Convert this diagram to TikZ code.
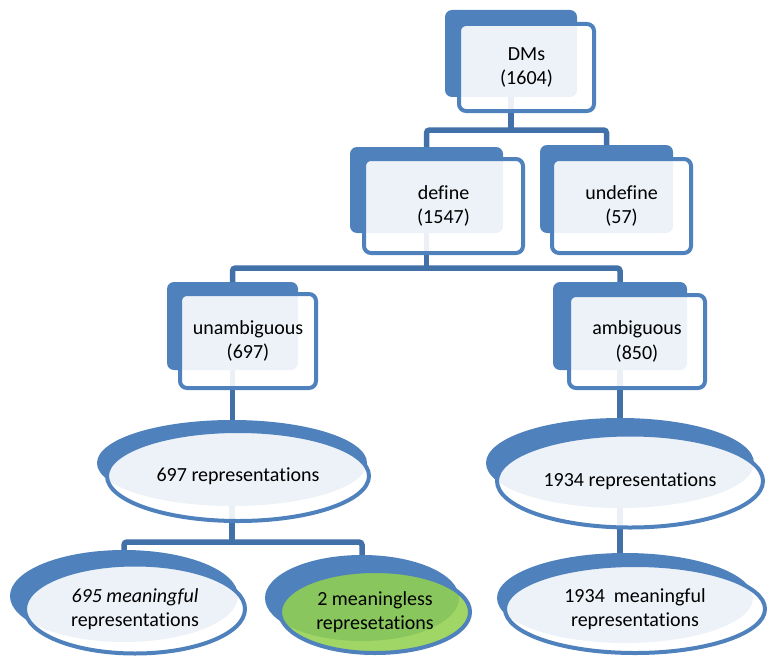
\documentclass[tikz,border=0pt]{standalone}
\usepackage{fontspec}
\setmainfont[Ligatures=NoCommon]{Carlito}
\usetikzlibrary{shapes.geometric}
\pgfdeclarelayer{bg}
\pgfsetlayers{bg,main}
\definecolor{bblue}{RGB}{79,129,189}
\definecolor{lblue}{RGB}{66,112,168}
\definecolor{lgreen}{RGB}{146,208,80}
\tikzset{
  txt/.style={align=center, font=\fontsize{20}{24.5}\selectfont, text=black},
  backbox/.style={rectangle, rounded corners=7pt, fill=bblue, inner sep=0pt},
  frontbox/.style={txt, rectangle, rounded corners=7pt, draw=bblue, line width=4pt,
    fill=white, fill opacity=0.9, text opacity=1, inner sep=0pt},
  backell/.style={ellipse, fill=bblue, inner sep=0pt},
  frontell/.style={txt, ellipse, draw=bblue, line width=4pt,
    fill=white, fill opacity=0.9, text opacity=1, inner sep=0pt},
  conn/.style={draw=lblue, line width=5.5pt, rounded corners=3pt}
}
\begin{document}
\begin{tikzpicture}[x=1pt,y=-1pt]
\useasboundingbox (0,0) rectangle (767,658);
% boxes
\node[backbox, minimum width=132pt, minimum height=87pt] (dmsB) at (511,53.5) {};
\node[frontbox, minimum width=135pt, minimum height=87pt] (dms) at (526.5,67.5) {DMs\\(1604)};
\node[backbox, minimum width=153pt, minimum height=86pt] (defB) at (426.5,190) {};
\node[frontbox, minimum width=159pt, minimum height=94pt] (def) at (443.5,206) {define\\(1547)};
\node[backbox, minimum width=133pt, minimum height=88pt] (undB) at (606.5,189) {};
\node[frontbox, minimum width=139pt, minimum height=94pt] (und) at (621.5,206) {undefine\\(57)};
\node[backbox, minimum width=131pt, minimum height=88pt] (unaB) at (232.5,326) {};
\node[frontbox, minimum width=136pt, minimum height=94pt] (una) at (248,341) {unambiguous\\(697)};
\node[backbox, minimum width=134pt, minimum height=88pt] (ambB) at (620,326) {};
\node[frontbox, minimum width=136pt, minimum height=93pt] (amb) at (637,341.5) {ambiguous\\(850)};
% ellipses
\node[backell, minimum width=270pt, minimum height=86pt] (r697B) at (232,463) {};
\node[frontell, minimum width=262pt, minimum height=90pt] (r697) at (238,476) {697 representations};
\node[backell, minimum width=268pt, minimum height=90pt] (r1934B) at (620,463) {};
\node[frontell, minimum width=266pt, minimum height=93pt] (r1934) at (630,481) {1934 representations};
\node[backell, minimum width=228pt, minimum height=92pt] (m695B) at (124,596) {};
\node[frontell, minimum width=220pt, minimum height=89pt] (m695) at (135,609) {\textit{695 meaningful}\\representations};
\node[backell, minimum width=194pt, minimum height=86pt] (mglB) at (362,598) {};
\node[frontell, fill=lgreen, fill opacity=0.88, minimum width=190pt, minimum height=82pt] (mgl) at (375,612) {2 meaningless\\represetations};
\node[backell, minimum width=256pt, minimum height=90pt] (m1934B) at (625,598) {};
\node[frontell, minimum width=260pt, minimum height=88pt] (m1934) at (635,609) {1934~~meaningful\\representations};
% connectors
\coordinate (bus1) at (0,130);
\coordinate (bus2) at (0,268);
\coordinate (bus4) at (0,542);
\begin{pgfonlayer}{bg}
\draw[conn] (dmsB.center) -- (dmsB.center |- bus1);
\draw[conn] (defB.center) -- (defB.center |- bus1) -- (undB.center |- bus1) -- (undB.center);
\draw[conn] (defB.center) -- (defB.center |- bus2);
\draw[conn] (unaB.center) -- (unaB.center |- bus2) -- (ambB.center |- bus2) -- (ambB.center);
\draw[conn] (unaB.center) -- (unaB.center |- r697B.center);
\draw[conn] (ambB.center) -- (ambB.center |- m1934B.center);
\draw[conn] (r697B.center) -- (r697B.center |- bus4);
\draw[conn] (m695B.center) -- (m695B.center |- bus4) -- (mglB.center |- bus4) -- (mglB.center);
\end{pgfonlayer}
\end{tikzpicture}
\end{document}
